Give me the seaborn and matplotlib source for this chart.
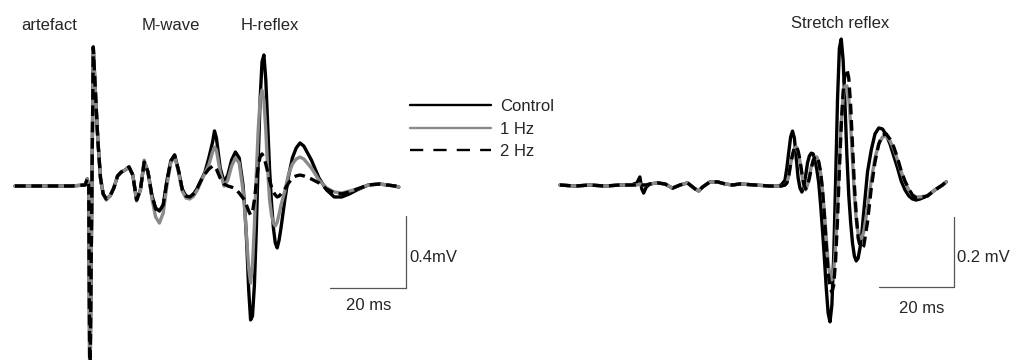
import numpy as np
import pandas as pd
import matplotlib
matplotlib.use("Agg")
import matplotlib.pyplot as plt
from matplotlib.lines import Line2D
import seaborn as sns

# ---------------- data (time in ms, amplitude in mV) ----------------
CONDITIONS = ["Control", "1 Hz", "2 Hz"]

# Left panel: H-reflex recording (t = 0 at stimulus artefact)
t_h = [-20, -5, -1.5, -1, -0.6, -0.3, 0.6, 1.2, 1.8, 2.5, 3.2,
       4, 5, 6, 7, 8, 9, 10, 11, 12, 13, 14, 15, 16, 17, 18, 19, 20, 21, 22,
       23, 24, 25, 26, 27, 28, 29, 30, 31, 32, 32.5, 33, 34, 35, 36, 37, 38,
       39, 40, 40.5, 41, 41.5, 42, 42.5, 43, 43.5, 44, 44.5, 45, 45.5, 46,
       46.5, 47, 47.5, 48, 48.5, 49, 49.5, 50, 51, 52, 53, 54, 55, 56, 58,
       60, 62, 64, 66, 68, 70, 73, 76, 80, 81]

h_control = [0, 0, 0.006, 0.039, 0, -1.19, 0.772, 0.506, 0.256, 0.044, -0.044,
             -0.072, -0.056, -0.011, 0.056, 0.078, 0.089, 0.106, 0.061, -0.078,
             -0.022, 0.133, 0.078, -0.05, -0.122, -0.139, -0.106, 0.033, 0.139,
             0.172, 0.089, -0.017, -0.056, -0.061, -0.044, -0.011, 0.033, 0.078,
             0.156, 0.244, 0.306, 0.267, 0.1, 0.022, 0.061, 0.144, 0.189, 0.156,
             0.006, -0.133, -0.328, -0.578, -0.744, -0.722, -0.55, -0.244, 0.144,
             0.478, 0.689, 0.728, 0.589, 0.339, 0.089, -0.094, -0.233, -0.317,
             -0.344, -0.3, -0.233, -0.078, 0.056, 0.156, 0.211, 0.239, 0.222,
             0.144, 0.044, -0.022, -0.061, -0.061, -0.044, -0.022, 0.006, 0.011,
             0, -0.006]

h_1hz = [0, 0, 0.006, 0.039, 0, -1.19, 0.772, 0.506, 0.256, 0.044, -0.044,
         -0.078, -0.056, -0.011, 0.056, 0.078, 0.089, 0.106, 0.061, -0.083,
         -0.022, 0.144, 0.078, -0.067, -0.172, -0.206, -0.15, 0.006, 0.128,
         0.167, 0.078, -0.028, -0.067, -0.072, -0.056, -0.022, 0.028, 0.072,
         0.117, 0.189, 0.217, 0.2, 0.078, 0, 0.033, 0.111, 0.156, 0.128,
         -0.022, -0.144, -0.3, -0.456, -0.539, -0.439, -0.217, 0.061, 0.311,
         0.478, 0.533, 0.478, 0.311, 0.089, -0.078, -0.161, -0.206, -0.222,
         -0.2, -0.156, -0.106, -0.028, 0.067, 0.122, 0.15, 0.161, 0.15,
         0.1, 0.033, -0.011, -0.033, -0.039, -0.028, -0.017, 0.006, 0.011,
         0, -0.006]

h_2hz = [0, 0, 0.006, 0.039, 0, -1.19, 0.772, 0.506, 0.256, 0.044, -0.044,
         -0.072, -0.056, -0.011, 0.056, 0.078, 0.089, 0.106, 0.061, -0.078,
         -0.022, 0.133, 0.078, -0.05, -0.128, -0.139, -0.106, 0.028, 0.139,
         0.172, 0.089, -0.017, -0.056, -0.061, -0.044, -0.011, 0.033, 0.067,
         0.094, 0.111, 0.111, 0.094, 0.044, 0.011, 0, -0.006, -0.017, -0.039,
         -0.067, -0.083, -0.111, -0.139, -0.161, -0.144, -0.078, 0.017, 0.111,
         0.161, 0.178, 0.161, 0.122, 0.078, 0.033, -0.006, -0.033, -0.05,
         -0.061, -0.056, -0.044, -0.017, 0.017, 0.044, 0.056, 0.061, 0.056,
         0.039, 0.017, -0.017, -0.039, -0.044, -0.033, -0.017, 0.006, 0.011,
         0, -0.006]

# Right panel: stretch reflex recording
t_s = [0, 4, 8, 12, 16, 19, 20.5, 21.3, 21.8, 22.3, 23, 24, 26, 28, 30, 32,
       34, 36, 37, 38, 40, 42, 44, 46, 48, 52, 56, 58, 59,
       60, 60.5, 61, 61.5, 62, 62.5, 63, 63.5, 64, 64.5, 65, 65.5, 66, 66.5,
       67, 67.5, 68, 68.5, 69, 69.5, 70, 70.5, 71, 71.5, 72, 72.5, 73, 73.5,
       74, 74.5, 75, 75.5, 76, 76.5, 77, 77.5, 78, 78.5, 79, 79.5, 80, 80.5,
       81, 82, 83, 84, 85, 86, 87, 88, 89, 90, 91, 92, 93, 94, 95, 96, 98,
       100, 102, 103]

s_control = [0, -0.003, 0, -0.003, 0, 0, 0.006, 0.023, -0.011, -0.023, -0.006,
             0.003, 0.006, 0.003, -0.009, 0, 0.006, -0.011, -0.017, -0.006,
             0.009, 0.009, 0.003, 0, 0.003, 0, -0.003, -0.003, 0,
             0.014, 0.049, 0.094, 0.137, 0.154, 0.134, 0.077, 0.02, -0.009,
             -0.02, -0.006, 0.026, 0.063, 0.083, 0.091, 0.089, 0.071, 0.043,
             0.006, -0.057, -0.129, -0.209, -0.294, -0.366, -0.391, -0.343,
             -0.2, 0.014, 0.243, 0.391, 0.417, 0.357, 0.229, 0.086, -0.029,
             -0.106, -0.166, -0.203, -0.217, -0.209, -0.18, -0.137, -0.077,
             0.037, 0.1, 0.146, 0.163, 0.16, 0.143, 0.117, 0.083, 0.049, 0.011,
             -0.014, -0.031, -0.04, -0.043, -0.04, -0.031, -0.014, 0, 0.009]

s_1hz = [0, -0.003, 0, -0.003, 0, 0, 0, 0.003, 0, 0, 0,
         0.003, 0.006, 0.003, -0.009, 0, 0.006, -0.011, -0.017, -0.006,
         0.009, 0.009, 0.003, 0, 0.003, 0, -0.003, -0.003, -0.003,
         0, 0.006, 0.026, 0.06, 0.086, 0.103, 0.109, 0.094, 0.066, 0.029,
         -0.003, -0.014, 0, 0.026, 0.051, 0.071, 0.08, 0.08, 0.063, 0.034,
         -0.014, -0.077, -0.151, -0.22, -0.263, -0.271, -0.243, -0.171,
         -0.057, 0.071, 0.18, 0.249, 0.283, 0.283, 0.249, 0.171, 0.071,
         -0.029, -0.1, -0.137, -0.154, -0.151, -0.134, -0.066, 0.014, 0.077,
         0.117, 0.137, 0.14, 0.126, 0.103, 0.071, 0.037, 0.009, -0.014,
         -0.029, -0.034, -0.034, -0.031, -0.014, 0, 0.009]

s_2hz = [0, -0.003, 0, -0.003, 0, 0, 0, 0.003, 0, 0, 0,
         0.003, 0.006, 0.003, -0.009, 0, 0.006, -0.011, -0.017, -0.006,
         0.009, 0.009, 0.003, 0, 0.003, 0, -0.003, -0.003, -0.003,
         0, 0.006, 0.026, 0.06, 0.086, 0.106, 0.111, 0.097, 0.071, 0.034,
         0.003, -0.011, -0.003, 0.02, 0.046, 0.069, 0.08, 0.083, 0.066, 0.037,
         -0.014, -0.086, -0.171, -0.249, -0.294, -0.306, -0.286, -0.214,
         -0.1, 0.043, 0.171, 0.266, 0.317, 0.331, 0.306, 0.229, 0.114,
         0, -0.086, -0.151, -0.174, -0.18, -0.174, -0.106, -0.009, 0.066,
         0.117, 0.143, 0.146, 0.131, 0.109, 0.077, 0.04, 0.011, -0.011,
         -0.029, -0.037, -0.037, -0.031, -0.014, 0, 0.009]

# scale bars
H_BAR_MS, H_BAR_MV = 20, 0.4
S_BAR_MS, S_BAR_MV = 20, 0.2


def long_df(t, series):
    frames = []
    for name, vals in zip(CONDITIONS, series):
        frames.append(pd.DataFrame({"t": t, "v": vals, "cond": name}))
    return pd.concat(frames, ignore_index=True)


df_h = long_df(t_h, [h_control, h_1hz, h_2hz])
df_s = long_df(t_s, [s_control, s_1hz, s_2hz])

# ---------------- style ----------------
sns.set_theme(style="white")
plt.rcParams["font.family"] = ["Liberation Sans", "DejaVu Sans"]
FS = 12

palette = {"Control": "#000000", "1 Hz": "#8a8a8a", "2 Hz": "#000000"}
dashes = {"Control": "", "1 Hz": "", "2 Hz": (3.2, 1.7)}

W, H = 1013, 360
fig = plt.figure(figsize=(W / 100, H / 100), dpi=100)

# left panel: 3.8 px per ms, 180 px per mV, origin at pixel (91, 186)
ax1 = fig.add_axes([0, 0, 506.5 / W, 1])
sns.lineplot(data=df_h, x="t", y="v", hue="cond", style="cond",
             palette=palette, dashes=dashes, hue_order=CONDITIONS,
             estimator=None, sort=False, linewidth=2.4, legend=False, ax=ax1)
ax1.set_xlim(-91 / 3.8, (506.5 - 91) / 3.8)
ax1.set_ylim(-(H - 186) / 180, 186 / 180)
ax1.axis("off")

# right panel: 3.75 px per ms, 350 px per mV, origin at pixel (560, 185)
ax2 = fig.add_axes([506.5 / W, 0, 506.5 / W, 1])
sns.lineplot(data=df_s, x="t", y="v", hue="cond", style="cond",
             palette=palette, dashes=dashes, hue_order=CONDITIONS,
             estimator=None, sort=False, linewidth=2.4, legend=False, ax=ax2)
ax2.set_xlim((506.5 - 560) / 3.75, (W - 560) / 3.75)
ax2.set_ylim(-(H - 185) / 350, 185 / 350)
ax2.axis("off")

bar_color = "#555555"
# left scale bar
hx0, hy0 = 63, -0.567
ax1.plot([hx0, hx0 + H_BAR_MS], [hy0, hy0], color=bar_color, lw=0.9)
ax1.plot([hx0 + H_BAR_MS] * 2, [hy0, hy0 + H_BAR_MV], color=bar_color, lw=0.9)
ax1.text(hx0 + H_BAR_MS / 2, hy0 - 0.095, f"{H_BAR_MS} ms", ha="center",
         va="center", fontsize=FS)
ax1.text(hx0 + H_BAR_MS + 0.7, hy0 + 0.17, "0.4mV", ha="left", va="center",
         fontsize=FS)

# right scale bar
sx0, sy0 = 85, -0.291
ax2.plot([sx0, sx0 + S_BAR_MS], [sy0, sy0], color=bar_color, lw=0.9)
ax2.plot([sx0 + S_BAR_MS] * 2, [sy0, sy0 + S_BAR_MV], color=bar_color, lw=0.9)
ax2.text(sx0 + S_BAR_MS / 2 + 1.5, sy0 - 0.063, f"{S_BAR_MS} ms", ha="center",
         va="center", fontsize=FS)
ax2.text(sx0 + S_BAR_MS + 0.9, sy0 + 0.085, "0.2 mV", ha="left", va="center",
         fontsize=FS)

# titles
for txt, x, y in [("artefact", 49, 25), ("M-wave", 171, 25),
                  ("H-reflex", 270, 25), ("Stretch reflex", 840, 24)]:
    fig.text(x / W, 1 - y / H, txt, ha="center", va="center", fontsize=FS)

# legend
handles = [Line2D([], [], color="#000000", lw=1.7),
           Line2D([], [], color="#8a8a8a", lw=1.7),
           Line2D([], [], color="#000000", lw=1.7, dashes=(5.6, 4.3))]
fig.legend(handles, CONDITIONS, loc="upper left",
           bbox_to_anchor=(410 / W, 1 - 99 / H), frameon=False,
           fontsize=FS, handlelength=4.86, handletextpad=0.55,
           labelspacing=0.45, borderpad=0, borderaxespad=0)

fig.savefig("out.png", dpi=100)
